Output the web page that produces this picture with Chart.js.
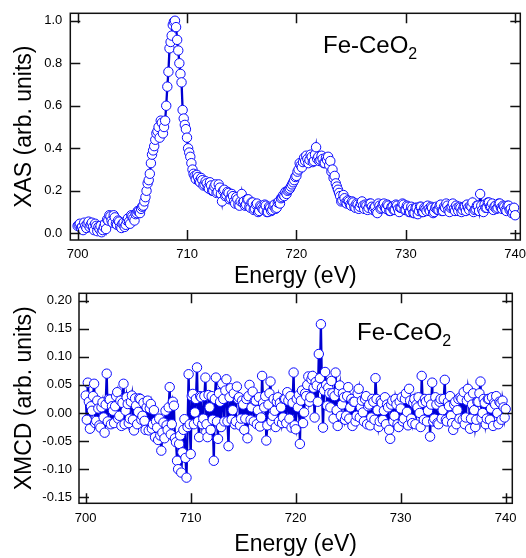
<!DOCTYPE html>
<html><head><meta charset="utf-8">
<script src="https://cdn.jsdelivr.net/npm/chart.js@4.4.0/dist/chart.umd.min.js"></script>
<style>
html,body{margin:0;padding:0;background:#fff;width:526px;height:558px;overflow:hidden;font-family:"Liberation Sans",Arial,sans-serif;}
#w1{position:absolute;left:0;top:0;width:526px;height:290px;}
#w2{position:absolute;left:0;top:284px;width:526px;height:274px;}
.lab{position:absolute;font-size:24px;line-height:24px;color:#000;white-space:nowrap;font-family:"Liberation Sans",Arial,sans-serif;}
.lab span{font-size:16px;position:relative;top:6px;}
</style></head><body>
<div id="w1"><canvas id="c1" width="526" height="290"></canvas></div>
<div id="w2"><canvas id="c2" width="526" height="274"></canvas></div>
<div class="lab" style="left:323px;top:33px;">Fe-CeO<span>2</span></div>
<div class="lab" style="left:357px;top:320px;">Fe-CeO<span>2</span></div>
<script>
const energies = [
700.0,700.1,700.2,700.3,700.4,700.5,700.6,700.7,700.8,700.9,
701.0,701.1,701.2,701.3,701.4,701.5,701.6,701.7,701.8,701.9,
702.0,702.1,702.2,702.3,702.4,702.5,702.6,702.7,702.8,702.9,
703.0,703.1,703.2,703.3,703.4,703.5,703.6,703.7,703.8,703.9,
704.0,704.1,704.2,704.3,704.4,704.5,704.6,704.7,704.8,704.9,
705.0,705.1,705.2,705.3,705.4,705.5,705.6,705.7,705.8,705.9,
706.0,706.1,706.2,706.3,706.4,706.5,706.6,706.7,706.8,706.9,
707.0,707.1,707.2,707.3,707.4,707.5,707.6,707.7,707.8,707.9,
708.0,708.1,708.2,708.3,708.4,708.5,708.6,708.7,708.8,708.9,
709.0,709.1,709.2,709.3,709.4,709.5,709.6,709.7,709.8,709.9,
710.0,710.1,710.2,710.3,710.4,710.5,710.6,710.7,710.8,710.9,
711.0,711.1,711.2,711.3,711.4,711.5,711.6,711.7,711.8,711.9,
712.0,712.1,712.2,712.3,712.4,712.5,712.6,712.7,712.8,712.9,
713.0,713.1,713.2,713.3,713.4,713.5,713.6,713.7,713.8,713.9,
714.0,714.1,714.2,714.3,714.4,714.5,714.6,714.7,714.8,714.9,
715.0,715.1,715.2,715.3,715.4,715.5,715.6,715.7,715.8,715.9,
716.0,716.1,716.2,716.3,716.4,716.5,716.6,716.7,716.8,716.9,
717.0,717.1,717.2,717.3,717.4,717.5,717.6,717.7,717.8,717.9,
718.0,718.1,718.2,718.3,718.4,718.5,718.6,718.7,718.8,718.9,
719.0,719.1,719.2,719.3,719.4,719.5,719.6,719.7,719.8,719.9,
720.0,720.1,720.2,720.3,720.4,720.5,720.6,720.7,720.8,720.9,
721.0,721.1,721.2,721.3,721.4,721.5,721.6,721.7,721.8,721.9,
722.0,722.1,722.2,722.3,722.4,722.5,722.6,722.7,722.8,722.9,
723.0,723.1,723.2,723.3,723.4,723.5,723.6,723.7,723.8,723.9,
724.0,724.1,724.2,724.3,724.4,724.5,724.6,724.7,724.8,724.9,
725.0,725.1,725.2,725.3,725.4,725.5,725.6,725.7,725.8,725.9,
726.0,726.1,726.2,726.3,726.4,726.5,726.6,726.7,726.8,726.9,
727.0,727.1,727.2,727.3,727.4,727.5,727.6,727.7,727.8,727.9,
728.0,728.1,728.2,728.3,728.4,728.5,728.6,728.7,728.8,728.9,
729.0,729.1,729.2,729.3,729.4,729.5,729.6,729.7,729.8,729.9,
730.0,730.1,730.2,730.3,730.4,730.5,730.6,730.7,730.8,730.9,
731.0,731.1,731.2,731.3,731.4,731.5,731.6,731.7,731.8,731.9,
732.0,732.1,732.2,732.3,732.4,732.5,732.6,732.7,732.8,732.9,
733.0,733.1,733.2,733.3,733.4,733.5,733.6,733.7,733.8,733.9,
734.0,734.1,734.2,734.3,734.4,734.5,734.6,734.7,734.8,734.9,
735.0,735.1,735.2,735.3,735.4,735.5,735.6,735.7,735.8,735.9,
736.0,736.1,736.2,736.3,736.4,736.5,736.6,736.7,736.8,736.9,
737.0,737.1,737.2,737.3,737.4,737.5,737.6,737.7,737.8,737.9,
738.0,738.1,738.2,738.3,738.4,738.5,738.6,738.7,738.8,738.9,
739.0,739.1,739.2,739.3,739.4,739.5,739.6,739.7,739.8,739.9,
740.0];

const xas = [
0.035,0.040,0.045,0.025,0.030,0.015,0.050,0.035,0.025,0.045,
0.055,0.030,0.040,0.050,0.030,0.015,0.045,0.035,0.010,0.030,
0.020,0.035,0.005,0.015,0.030,0.045,0.020,0.065,0.060,0.085,
0.080,0.060,0.050,0.085,0.075,0.045,0.040,0.060,0.055,0.030,
0.025,0.045,0.050,0.030,0.040,0.060,0.070,0.055,0.045,0.085,
0.080,0.070,0.060,0.090,0.095,0.105,0.105,0.095,0.115,0.125,
0.130,0.150,0.170,0.200,0.235,0.250,0.280,0.330,0.370,0.390,
0.410,0.440,0.470,0.480,0.500,0.450,0.530,0.520,0.470,0.500,
0.530,0.600,0.690,0.760,0.870,0.900,0.930,0.980,0.995,1.000,
0.970,0.910,0.860,0.800,0.750,0.710,0.580,0.540,0.510,0.490,
0.450,0.400,0.380,0.360,0.330,0.300,0.280,0.270,0.255,0.275,
0.265,0.245,0.240,0.260,0.250,0.225,0.230,0.245,0.235,0.215,
0.210,0.240,0.225,0.200,0.200,0.220,0.230,0.190,0.195,0.230,
0.215,0.185,0.150,0.200,0.205,0.175,0.180,0.195,0.190,0.160,
0.165,0.185,0.175,0.150,0.140,0.170,0.160,0.135,0.130,0.150,
0.185,0.145,0.150,0.130,0.135,0.160,0.160,0.125,0.120,0.145,
0.145,0.110,0.115,0.135,0.140,0.100,0.105,0.130,0.125,0.115,
0.110,0.135,0.130,0.100,0.100,0.125,0.120,0.105,0.110,0.130,
0.135,0.115,0.120,0.145,0.150,0.140,0.165,0.170,0.180,0.175,
0.195,0.185,0.200,0.205,0.210,0.220,0.230,0.240,0.250,0.265,
0.270,0.290,0.300,0.330,0.320,0.310,0.335,0.355,0.340,0.365,
0.350,0.330,0.345,0.370,0.360,0.335,0.340,0.370,0.405,0.350,
0.360,0.340,0.345,0.365,0.350,0.330,0.330,0.355,0.345,0.360,
0.320,0.340,0.290,0.300,0.260,0.270,0.235,0.220,0.205,0.190,
0.175,0.150,0.155,0.180,0.165,0.145,0.140,0.155,0.150,0.135,
0.130,0.150,0.145,0.125,0.120,0.140,0.135,0.115,0.125,0.140,
0.150,0.130,0.115,0.135,0.130,0.110,0.120,0.140,0.140,0.125,
0.110,0.120,0.125,0.100,0.095,0.140,0.130,0.115,0.120,0.135,
0.140,0.120,0.115,0.135,0.130,0.105,0.105,0.125,0.125,0.110,
0.110,0.135,0.130,0.115,0.100,0.120,0.120,0.140,0.135,0.110,
0.110,0.130,0.125,0.100,0.100,0.125,0.115,0.095,0.095,0.120,
0.120,0.090,0.105,0.125,0.125,0.100,0.100,0.120,0.115,0.105,
0.130,0.115,0.105,0.125,0.120,0.095,0.100,0.120,0.125,0.110,
0.110,0.130,0.135,0.105,0.105,0.125,0.120,0.140,0.130,0.110,
0.100,0.120,0.125,0.140,0.115,0.105,0.130,0.120,0.105,0.125,
0.120,0.100,0.110,0.125,0.125,0.105,0.135,0.120,0.110,0.130,
0.125,0.145,0.100,0.110,0.115,0.130,0.130,0.105,0.185,0.130,
0.110,0.100,0.135,0.120,0.120,0.145,0.145,0.125,0.125,0.140,
0.110,0.125,0.130,0.115,0.120,0.140,0.140,0.120,0.115,0.130,
0.125,0.110,0.105,0.130,0.130,0.110,0.115,0.095,0.100,0.120,
0.085];

const xmcd = [
0.031,-0.012,0.054,0.020,-0.028,0.012,0.004,0.030,0.052,-0.018,
-0.014,0.022,0.008,-0.022,-0.026,0.010,0.019,-0.008,-0.035,0.015,
0.070,-0.015,0.025,0.024,-0.020,0.012,0.004,-0.018,0.012,0.030,
0.037,-0.010,-0.005,0.022,-0.023,0.018,0.052,-0.020,0.004,0.028,
0.016,-0.018,-0.010,0.020,0.031,-0.012,-0.031,0.026,0.013,-0.020,
0.002,0.026,0.025,-0.012,-0.005,0.018,-0.014,-0.030,0.010,0.022,
-0.031,0.008,0.016,-0.028,-0.020,0.005,-0.043,-0.015,-0.026,-0.048,
-0.010,-0.040,-0.067,-0.035,-0.017,-0.045,0.004,-0.022,-0.030,0.010,
0.046,-0.038,-0.020,0.020,0.013,-0.045,-0.052,-0.085,-0.100,-0.055,
-0.040,-0.106,-0.070,-0.030,-0.011,-0.080,-0.115,-0.025,0.069,-0.020,
-0.073,0.030,0.034,-0.020,0.001,0.025,0.081,-0.015,-0.043,0.030,
0.028,-0.020,-0.010,0.030,0.063,-0.020,-0.043,0.032,0.010,-0.030,
0.030,-0.012,-0.085,0.025,0.063,-0.015,-0.046,0.035,0.020,-0.025,
0.052,0.025,-0.015,0.040,0.060,-0.015,-0.059,0.028,0.044,-0.012,
0.005,0.035,-0.020,-0.015,0.047,0.025,0.028,-0.022,-0.010,0.022,
0.015,-0.030,-0.010,0.025,-0.045,0.030,0.050,-0.012,0.010,0.038,
-0.015,0.022,0.022,-0.020,0.005,0.028,-0.024,-0.008,0.066,0.018,
0.010,0.030,-0.049,-0.022,0.015,0.035,0.056,-0.015,-0.005,0.025,
0.004,-0.025,0.020,0.028,-0.015,0.018,0.010,-0.018,-0.008,0.025,
0.025,-0.018,0.037,0.022,-0.010,0.030,-0.026,0.018,0.072,-0.022,
-0.029,0.025,0.010,0.032,-0.055,0.022,0.040,-0.018,0.001,0.035,
0.030,0.050,0.065,0.020,0.028,0.060,0.066,0.045,-0.008,0.055,
0.049,0.020,0.105,0.062,0.158,0.045,-0.026,0.040,0.073,0.050,
0.013,0.045,0.035,0.010,0.057,0.035,-0.010,0.030,0.072,0.005,
-0.023,0.038,0.049,-0.005,0.015,0.035,0.028,-0.012,-0.005,0.030,
0.046,-0.010,0.010,0.025,-0.023,0.020,0.020,-0.015,-0.005,0.035,
0.043,-0.008,0.010,0.022,0.001,-0.015,0.025,0.030,-0.020,0.012,
0.015,-0.022,-0.008,0.025,0.020,-0.012,0.062,0.025,0.005,-0.025,
-0.015,0.022,0.018,-0.012,0.004,0.028,-0.020,0.015,0.010,-0.030,
-0.046,0.015,0.022,-0.015,-0.005,0.025,0.015,-0.020,-0.025,0.020,
0.008,0.028,-0.015,-0.010,0.025,0.035,0.002,-0.022,0.043,0.022,
-0.010,-0.018,0.018,0.025,-0.020,0.015,0.010,0.028,0.000,-0.025,
0.066,0.018,-0.012,0.025,0.020,-0.015,0.004,0.025,-0.042,0.015,
0.054,-0.015,-0.010,0.028,0.015,-0.018,-0.020,0.020,0.025,-0.010,
0.005,0.025,0.059,-0.012,-0.015,0.020,0.012,0.030,-0.005,-0.018,
-0.030,0.015,0.020,-0.020,0.005,0.025,-0.010,0.028,0.025,-0.012,
0.037,-0.020,-0.008,0.022,0.043,0.028,-0.028,-0.010,0.015,0.035,
0.005,-0.025,-0.012,0.020,0.020,0.035,0.056,-0.010,0.000,0.025,
0.018,-0.020,-0.010,0.025,0.025,-0.012,0.008,0.028,-0.023,0.018,
0.015,0.030,0.000,-0.020,0.020,0.018,-0.012,0.022,0.010,-0.008,
0.007];

const energyTicks = [700, 710, 720, 730, 740];
const energyTickLabels = ['700', '710', '720', '730', '740'];
const xasTicks = [0, 0.2, 0.4, 0.6, 0.8, 1.0];
const xasTickLabels = ['0.0', '0.2', '0.4', '0.6', '0.8', '1.0'];
const xmcdTicks = [-0.15, -0.10, -0.05, 0, 0.05, 0.10, 0.15, 0.20];
const xmcdTickLabels = ['-0.15', '-0.10', '-0.05', '0.00', '0.05', '0.10', '0.15', '0.20'];

const FAM = '"Liberation Sans", Arial, sans-serif';
const LINE = '#0000d0';
const MARK = '#0a0aff';

const framePlugin = {
  id: 'frame',
  afterDraw(chart) {
    const {ctx, chartArea: a, scales: {x, y}} = chart;
    ctx.save();
    ctx.strokeStyle = '#111';
    ctx.lineWidth = 1.5;
    ctx.strokeRect(a.left, a.top, a.right - a.left, a.bottom - a.top);
    ctx.beginPath();
    x.ticks.forEach(t => {
      const p = Math.round(x.getPixelForValue(t.value)) + 0.5;
      ctx.moveTo(p, a.bottom); ctx.lineTo(p, a.bottom - 10);
      ctx.moveTo(p, a.top); ctx.lineTo(p, a.top + 10);
    });
    y.ticks.forEach(t => {
      const p = Math.round(y.getPixelForValue(t.value)) + 0.5;
      ctx.moveTo(a.left, p); ctx.lineTo(a.left + 10, p);
      ctx.moveTo(a.right, p); ctx.lineTo(a.right - 10, p);
    });
    ctx.stroke();
    ctx.restore();
  }
};

function makeChart(id, yvals, opts) {
  const pts = energies.map((e, i) => ({x: e, y: yvals[i]}));
  return new Chart(document.getElementById(id), {
    type: 'scatter',
    data: {datasets: [{
      data: pts,
      showLine: true,
      borderColor: LINE,
      borderWidth: 2.3,
      pointRadius: 4.7,
      pointBorderWidth: 1,
      pointBorderColor: MARK,
      pointBackgroundColor: '#fff',
      tension: 0
    }]},
    options: {
      responsive: false,
      animation: false,
      events: [],
      layout: {padding: opts.padding},
      plugins: {legend: {display: false}, tooltip: {enabled: false}},
      scales: {
        x: {
          type: 'linear', min: opts.xmin, max: opts.xmax,
          grid: {display: false, drawTicks: false}, border: {display: false},
          afterBuildTicks: s => { s.ticks = energyTicks.map(v => ({value: v})); },
          ticks: {callback: (v, i) => energyTickLabels[i], padding: 7, color: '#000',
                  font: {size: 13, family: FAM}, maxRotation: 0, autoSkip: false},
          title: {display: true, text: 'Energy (eV)', color: '#000', font: {size: 23, family: FAM}, padding: 0},
          afterFit: s => { s.height = opts.xh; s.paddingLeft = 0; s.paddingRight = 0; }
        },
        y: {
          type: 'linear', min: opts.ymin, max: opts.ymax,
          grid: {display: false, drawTicks: false}, border: {display: false},
          afterBuildTicks: s => { s.ticks = opts.yticks.map(v => ({value: v})); },
          ticks: {callback: (v, i) => opts.ylabels[i], padding: opts.ypad, color: '#000',
                  font: {size: 13, family: FAM}, autoSkip: false},
          title: {display: true, text: opts.ytitle, color: '#000', font: {size: 23, family: FAM}, padding: {top: 11, bottom: 0}},
          afterFit: s => { s.width = opts.yw; s.paddingTop = 0; s.paddingBottom = 0; }
        }
      }
    },
    plugins: [framePlugin]
  });
}

makeChart('c1', xas, {
  padding: {top: 13.3, right: 4.3, left: 0, bottom: 0},
  xmin: 699.33, xmax: 740.47, ymin: -0.0315, ymax: 1.035,
  xh: 50, yw: 70.3, ypad: 8,
  yticks: xasTicks, ylabels: xasTickLabels, ytitle: 'XAS (arb. units)'
});
makeChart('c2', xmcd, {
  padding: {top: 9.3, right: 13.7, left: 0, bottom: 0},
  xmin: 699.36, xmax: 740.63, ymin: -0.1607, ymax: 0.213,
  xh: 54.7, yw: 79, ypad: 7,
  yticks: xmcdTicks, ylabels: xmcdTickLabels, ytitle: 'XMCD (arb. units)'
});
</script>
</body></html>
